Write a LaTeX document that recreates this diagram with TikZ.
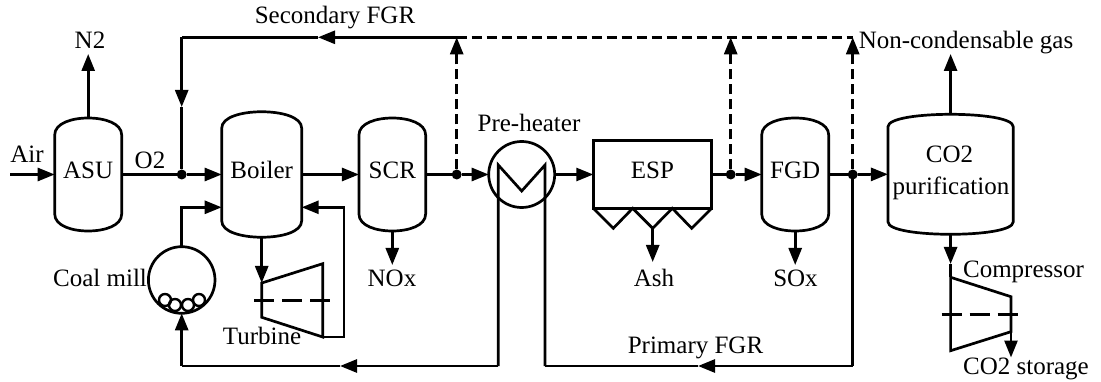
\documentclass[tikz,border=0pt]{standalone}
\usepackage{fontspec}
\setmainfont{Liberation Serif}
\usetikzlibrary{arrows.meta}
\tikzset{
  line/.style={line width=2.7pt,black,line join=miter},
  flow/.style={line,-{Triangle[length=17pt,width=13pt]}},
  dashflow/.style={flow,dash pattern=on 10pt off 5pt},
  dashline/.style={line,dash pattern=on 10pt off 5pt},
  shaft/.style={line,dash pattern=on 20pt off 8pt},
  lab/.style={anchor=base,inner sep=0pt,outer sep=0pt},
  vessel/.style={inner sep=0pt,outer sep=0pt,text height=16.5pt,text depth=8.5pt},
  junction/.style={circle,fill=black,inner sep=0pt,outer sep=0pt,minimum size=10pt},
  ball/.style={circle,draw=black,line width=2.4pt,inner sep=0pt,outer sep=0pt,minimum size=12pt},
  ring/.style={circle,draw=black,line width=2.7pt,inner sep=0pt,outer sep=0pt},
}
% name, centre x, centre y, width, height, shoulder, text
\newcommand{\vesselnode}[7]{%
  \node[vessel,minimum width=#4pt,minimum height=#5pt] (#1) at (#2,#3) {#7};
  \pgfmathsetmacro{\vxa}{#2-#4/2}\pgfmathsetmacro{\vxb}{#2+#4/2}
  \pgfmathsetmacro{\vya}{#3-#5/2}\pgfmathsetmacro{\vyb}{#3+#5/2}
  \pgfmathsetmacro{\vsa}{\vya+#6}\pgfmathsetmacro{\vsb}{\vyb-#6}
  \pgfmathsetmacro{\vca}{\vya+#6*0.3}\pgfmathsetmacro{\vcb}{\vyb-#6*0.3}
  \pgfmathsetmacro{\vda}{#2-#4*0.24}\pgfmathsetmacro{\vdb}{#2+#4*0.24}
  \draw[line] (\vxa,\vsa) .. controls (\vxa,\vca) and (\vda,\vya) .. (#2,\vya)
    .. controls (\vdb,\vya) and (\vxb,\vca) .. (\vxb,\vsa) -- (\vxb,\vsb)
    .. controls (\vxb,\vcb) and (\vdb,\vyb) .. (#2,\vyb)
    .. controls (\vda,\vyb) and (\vxa,\vcb) .. (\vxa,\vsb) -- cycle;
}
\begin{document}
\begin{tikzpicture}[x=1pt,y=-1pt,every node/.append style={font=\fontsize{25}{30}\selectfont}]
\useasboundingbox (0,0) rectangle (1101,382);

% vessels
\vesselnode{asu}{88.2}{174.5}{67}{113}{17}{ASU}
\vesselnode{boiler}{261.7}{174.5}{80}{125.5}{16.5}{Boiler}
\vesselnode{scr}{392.3}{174.5}{66.7}{113}{17}{SCR}
\vesselnode{fgd}{795.2}{174.5}{67}{113}{17}{FGD}
\vesselnode{co2}{950.6}{174.3}{125.3}{120}{12.5}{}

% pre-heater, coal mill, ESP
\node[ring,minimum size=66pt] (heater) at (521.7,174.5) {};
\node[ring,minimum size=66.6pt] (mill) at (181.7,280) {};
\node[ball] (b1) at (165,300) {};
\node[ball] (b2) at (175,305) {};
\node[ball] (b3) at (188,305) {};
\node[ball] (b4) at (199,300) {};
\node[draw=black,line width=2.7pt,inner sep=0pt,outer sep=0pt,minimum width=118.4pt,minimum height=67.6pt,text height=16.5pt,text depth=8.5pt] (esp) at (652.5,174.5) {ESP};
\draw[line] (esp.south west) -- (613.3,228.3) -- (632.7,208.3) -- (652.7,228.3) coordinate (hopper) -- (672.3,208.3) -- (691.7,228.3) -- (esp.south east);

% junctions
\node[junction] (j1) at (181.7,174.5) {};
\node[junction] (j2) at (456.7,174.5) {};
\node[junction] (j3) at (730.7,174.5) {};
\node[junction] (j4) at (852.7,174.5) {};

% free ends and corners
\coordinate (airin) at (10,174.5);
\coordinate (n2end) at (88.2,54);
\coordinate (topleft) at (181.7,37.3);
\coordinate (secarrow) at (318,37.3);
\coordinate (t2) at (456.7,37.3);
\coordinate (t3) at (730.7,37.3);
\coordinate (t4) at (852.7,37.3);
\coordinate (o2down) at (181.7,107);
\coordinate (boilerinL) at (221.7,207.3);
\coordinate (boilerinR) at (301.7,207.3);
\coordinate (retcorner) at (344,207.3);
\coordinate (retbottom) at (344,337);
\coordinate (noxend) at (392.3,265);
\coordinate (ashend) at (652.7,262);
\coordinate (soxend) at (795.2,265);
\coordinate (nonend) at (950.6,54);
\coordinate (tubeL) at (498.3,366);
\coordinate (tubeR) at (545,366);
\coordinate (prarrow) at (698,366);
\coordinate (blarrow) at (340,366);
\coordinate (blcorner) at (181.7,366);
\coordinate (brcorner) at (852.7,366);

% turbine
\coordinate (ta) at (261.7,283);
\coordinate (tb) at (322.7,263.7);
\coordinate (tc) at (322.7,337);
\coordinate (td) at (261.7,317.3);
\draw[line] (ta) -- (tb) -- (tc) -- (td) -- cycle;
\coordinate (tsa) at (254,300.3);
\coordinate (tsb) at (335.7,300.3);
\draw[shaft] (tsa) -- (tsb);

% compressor
\coordinate (ca) at (950.6,277.3);
\coordinate (cb) at (1011,296.7);
\coordinate (cc) at (1011,331.7);
\coordinate (cd) at (950.6,350.7);
\draw[line] (ca) -- (cb) -- (cc) -- (cd) -- cycle;
\coordinate (csa) at (941.7,314.3);
\coordinate (csb) at (1023,314.3);
\draw[shaft] (csa) -- (csb);
\coordinate (cend) at (1011,357.5);
\coordinate (ctip) at (950.6,264);

% heat exchanger tube
\coordinate (h1) at (498.3,165);
\coordinate (h2) at (521.7,191);
\coordinate (h3) at (545,165);
\draw[line] (tubeL) -- (h1) -- (h2) -- (h3) -- (tubeR);

% main flow
\draw[flow] (airin) -- (asu.west);
\draw[flow] (asu.north) -- (n2end);
\draw[line] (asu.east) -- (j1);
\draw[flow] (j1) -- (boiler.west);
\draw[flow] (boiler.east) -- (scr.west);
\draw[line] (scr.east) -- (j2);
\draw[flow] (j2) -- (heater.west);
\draw[flow] (heater.east) -- (esp.west);
\draw[line] (esp.east) -- (j3);
\draw[flow] (j3) -- (fgd.west);
\draw[line] (fgd.east) -- (j4);
\draw[flow] (j4) -- (co2.west);

% side streams
\draw[flow] (scr.south) -- (noxend);
\draw[flow] (hopper) -- (ashend);
\draw[flow] (fgd.south) -- (soxend);
\draw[flow] (co2.north) -- (nonend);
\draw[flow] (co2.south) -- (ctip);
\draw[line] (ctip) -- (ca);
\draw[flow] (cc) -- (cend);
\draw[flow] (boiler.south) -- (ta);
\draw[flow] (mill.north) |- (boilerinL);
\draw[flow] (tc) -- (retbottom) -- (retcorner) -- (boilerinR);

% secondary FGR
\draw[flow] (t2) -- (secarrow);
\draw[line] (secarrow) -- (topleft);
\draw[flow] (topleft) -- (o2down);
\draw[line] (o2down) -- (j1);
\draw[dashline] (t2) -- (t3) -- (t4);
\draw[dashflow] (j2) -- (t2);
\draw[dashflow] (j3) -- (t3);
\draw[dashflow] (j4) -- (t4);

% primary FGR
\draw[flow] (tubeL) -- (blarrow);
\draw[line] (blarrow) -- (blcorner);
\draw[flow] (blcorner) -- (mill.south);
\draw[line] (j4) -- (brcorner);
\draw[flow] (brcorner) -- (prarrow);
\draw[line] (prarrow) -- (tubeR);

% labels
\node[lab] (lair) at (27,163) {Air};
\node[lab] (ln2) at (90,49) {N2};
\node[lab] (lo2) at (150,168.5) {O2};
\node[lab] (lsec) at (335,24) {Secondary FGR};
\node[lab] (lmill) at (100,286.7) {Coal mill};
\node[lab] (lturb) at (262,344) {Turbine};
\node[lab] (lnox) at (392,286.7) {NOx};
\node[lab] (lheat) at (529,131.7) {Pre-heater};
\node[lab] (lash) at (654,286.7) {Ash};
\node[lab] (lprim) at (695.5,353.3) {Primary FGR};
\node[lab] (lsox) at (795.5,286.7) {SOx};
\node[lab] (lnon) at (966,49) {Non-condensable gas};
\node[lab] (lco2a) at (949.5,162.3) {CO2};
\node[lab] (lco2b) at (951,195) {purification};
\node[lab] (lcomp) at (1023.5,277.7) {Compressor};
\node[lab] (lstor) at (1026,374.3) {CO2 storage};
\end{tikzpicture}
\end{document}
